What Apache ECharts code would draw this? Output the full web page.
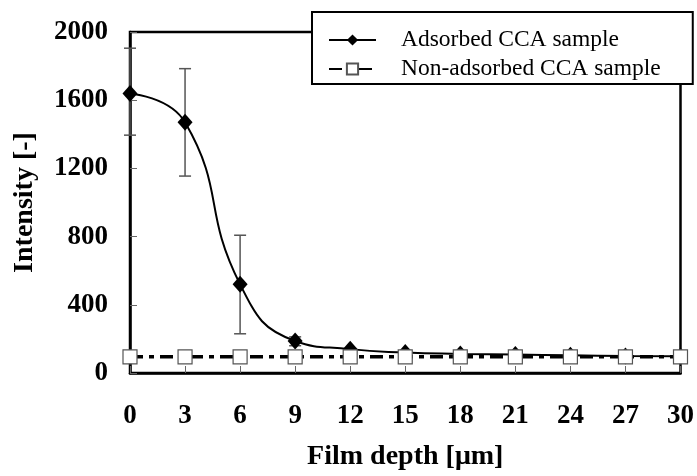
<!DOCTYPE html>
<html>
<head>
<meta charset="utf-8">
<script src="https://cdn.jsdelivr.net/npm/echarts@6/dist/echarts.min.js"></script>
<style>
html,body{margin:0;padding:0;background:#fff;}
#chart{width:697px;height:476px;}
</style>
</head>
<body>
<div id="chart"></div>
<script>
const depths = [0, 3, 6, 9, 12, 15, 18, 21, 24, 27, 30];
const adsorbed = [1640, 1470, 520, 188, 140, 120, 112, 108, 104, 100, 98];
const nonAdsorbed = [95, 95, 95, 95, 95, 95, 95, 95, 95, 95, 95];
const errLow = [1395, 1155, 230, 160, null, null, null, null, null, null, null];
const errHigh = [1905, 1785, 808, 212, null, null, null, null, null, null, null];
const yTicks = [0, 400, 800, 1200, 1600, 2000];
const seriesNames = ['Adsorbed CCA sample', 'Non-adsorbed CCA sample'];

const serif = '"Liberation Serif", "DejaVu Serif", serif';
const chart = echarts.init(document.getElementById('chart'));

const errData = [];
depths.forEach((d, i) => {
  if (errLow[i] != null) errData.push([d, errLow[i], errHigh[i]]);
});

chart.setOption({
  animation: false,
  backgroundColor: '#fff',
  grid: {left: 130, right: 15, top: 32, bottom: 103, show: true, borderColor: '#000', borderWidth: 2.5},
  legend: {
    left: 312, top: 12,
    orient: 'vertical',
    data: seriesNames,
    backgroundColor: '#fff',
    borderColor: '#000', borderWidth: 2,
    padding: [16, 32, 3, 16],
    itemWidth: 47, itemHeight: 14, itemGap: 5,
    textStyle: {fontFamily: serif, fontSize: 23.5, color: '#000', padding: [0, 0, 0, 20]}
  },
  xAxis: {
    type: 'value', min: 0, max: 30, interval: 3,
    name: 'Film depth [μm]', nameLocation: 'middle', nameGap: 70,
    nameTextStyle: {fontFamily: serif, fontSize: 28, fontWeight: 'bold', color: '#000'},
    axisLine: {lineStyle: {color: '#000', width: 2.5}},
    axisTick: {inside: true, length: 7, lineStyle: {color: '#666', width: 1}},
    axisLabel: {fontFamily: serif, fontSize: 27, fontWeight: 'bold', color: '#000', margin: 30},
    splitLine: {show: false}
  },
  yAxis: {
    type: 'value', min: 0, max: 2000, interval: 400,
    name: 'Intensity [-]', nameLocation: 'middle', nameGap: 91,
    nameTextStyle: {fontFamily: serif, fontSize: 28, fontWeight: 'bold', color: '#000'},
    axisLine: {lineStyle: {color: '#000', width: 2.5}},
    axisTick: {inside: true, length: 7, lineStyle: {color: '#666', width: 1}},
    axisLabel: {fontFamily: serif, fontSize: 27, fontWeight: 'bold', color: '#000', margin: 22,
      formatter: v => yTicks.indexOf(v) >= 0 ? String(v) : ''},
    splitLine: {show: false}
  },
  series: [
    {
      name: seriesNames[0], type: 'line', smooth: 0.5,
      data: depths.map((d, i) => [d, adsorbed[i]]),
      symbol: 'diamond', symbolSize: [15, 17],
      itemStyle: {color: '#000'},
      lineStyle: {color: '#000', width: 2},
      z: 3
    },
    {
      name: 'err', type: 'custom',
      data: errData,
      renderItem: function (params, api) {
        const x = api.value(0);
        const lo = api.coord([x, api.value(1)]);
        const hi = api.coord([x, api.value(2)]);
        const w = 6;
        const style = {stroke: '#555', lineWidth: 1.5};
        return {
          type: 'group',
          children: [
            {type: 'line', shape: {x1: lo[0], y1: lo[1], x2: hi[0], y2: hi[1]}, style: style},
            {type: 'line', shape: {x1: lo[0] - w, y1: lo[1], x2: lo[0] + w, y2: lo[1]}, style: style},
            {type: 'line', shape: {x1: hi[0] - w, y1: hi[1], x2: hi[0] + w, y2: hi[1]}, style: style}
          ]
        };
      },
      z: 2
    },
    {
      name: seriesNames[1], type: 'line',
      data: depths.map((d, i) => [d, nonAdsorbed[i]]),
      symbol: 'rect', symbolSize: 14,
      itemStyle: {color: '#fff', borderColor: '#555', borderWidth: 1.2},
      lineStyle: {color: '#000', width: 3.5, type: [13, 6, 5, 6]},
      z: 4
    }
  ]
});
</script>
</body>
</html>
